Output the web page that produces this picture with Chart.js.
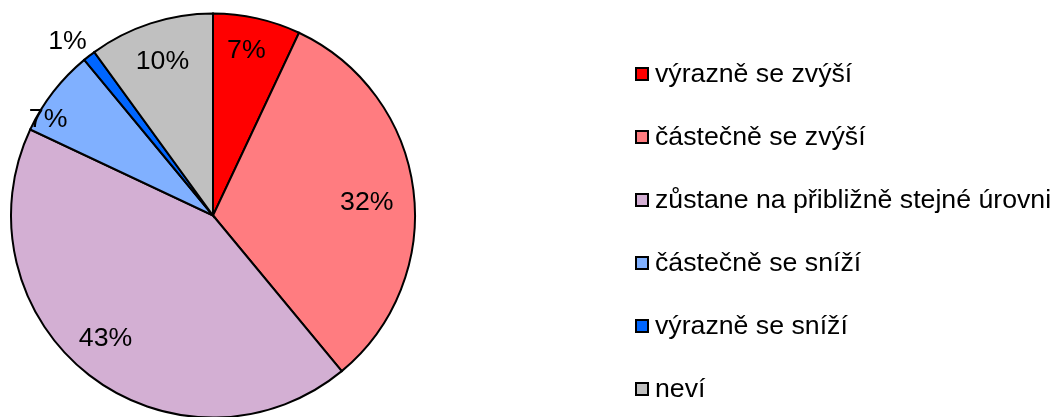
<!DOCTYPE html>
<html>
<head>
<meta charset="utf-8">
<script src="https://cdn.jsdelivr.net/npm/chart.js@4"></script>
<style>
  html, body { margin: 0; padding: 0; background: #fff; }
  #wrap { width: 1052px; height: 417px; position: relative; }
</style>
</head>
<body>
<div id="wrap"><canvas id="myChart" width="1052" height="417"></canvas></div>
<script>
const labels = ["výrazně se zvýší", "částečně se zvýší", "zůstane na přibližně stejné úrovni", "částečně se sníží", "výrazně se sníží", "neví"];
const values = [7, 32, 43, 7, 1, 10];
const colors = ["#FF0000", "#FF7C80", "#D3AFD3", "#80B0FF", "#0066FF", "#C0C0C0"];

// label placement: [radius factor, position within slice 0..1]
const labelPlace = [[0.84, 0.45], [0.765, 0.515], [0.8, 0.525], [0.95, 0.22], [1.13, 0.0], [0.81, 0.5]];

const FONT = "26.7px 'Liberation Sans', Arial, sans-serif";

const sliceLabels = {
    id: "sliceLabels",
    afterDatasetsDraw(chart) {
        const ctx = chart.ctx;
        const meta = chart.getDatasetMeta(0);
        const total = values.reduce((a, b) => a + b, 0);
        ctx.save();
        ctx.font = FONT;
        ctx.fillStyle = "#000";
        ctx.textAlign = "center";
        ctx.textBaseline = "middle";
        meta.data.forEach((arc, i) => {
            const p = arc.getProps(["x", "y", "startAngle", "endAngle", "outerRadius"], true);
            const a = p.startAngle + (p.endAngle - p.startAngle) * labelPlace[i][1];
            const r = p.outerRadius * labelPlace[i][0];
            const pct = Math.round(values[i] / total * 100) + "%";
            ctx.fillText(pct, p.x + Math.cos(a) * r, p.y + Math.sin(a) * r + 2);
        });
        ctx.restore();
    }
};

const sideLegend = {
    id: "sideLegend",
    afterDraw(chart) {
        const ctx = chart.ctx;
        ctx.save();
        ctx.font = FONT;
        ctx.textBaseline = "middle";
        labels.forEach((lab, i) => {
            const y = 74 + i * 63;
            ctx.fillStyle = colors[i];
            ctx.fillRect(636, y - 6, 12, 12);
            ctx.strokeStyle = "#000";
            ctx.lineWidth = 2;
            ctx.strokeRect(636, y - 6, 12, 12);
            ctx.fillStyle = "#000";
            ctx.fillText(lab, 655, y + 1);
        });
        ctx.restore();
    }
};

const ctx = document.getElementById("myChart").getContext("2d");

new Chart(ctx, {
    type: "pie",
    data: {
        labels: labels,
        datasets: [{
            data: values,
            backgroundColor: colors,
            borderColor: "#000",
            borderWidth: 2,
            borderJoinStyle: "miter"
        }]
    },
    options: {
        responsive: false,
        animation: false,
        radius: 202,
        layout: { padding: { left: 11, top: 14, right: 637, bottom: 0 } },
        plugins: {
            legend: { display: false },
            tooltip: { enabled: false }
        }
    },
    plugins: [sliceLabels, sideLegend]
});
</script>
</body>
</html>
